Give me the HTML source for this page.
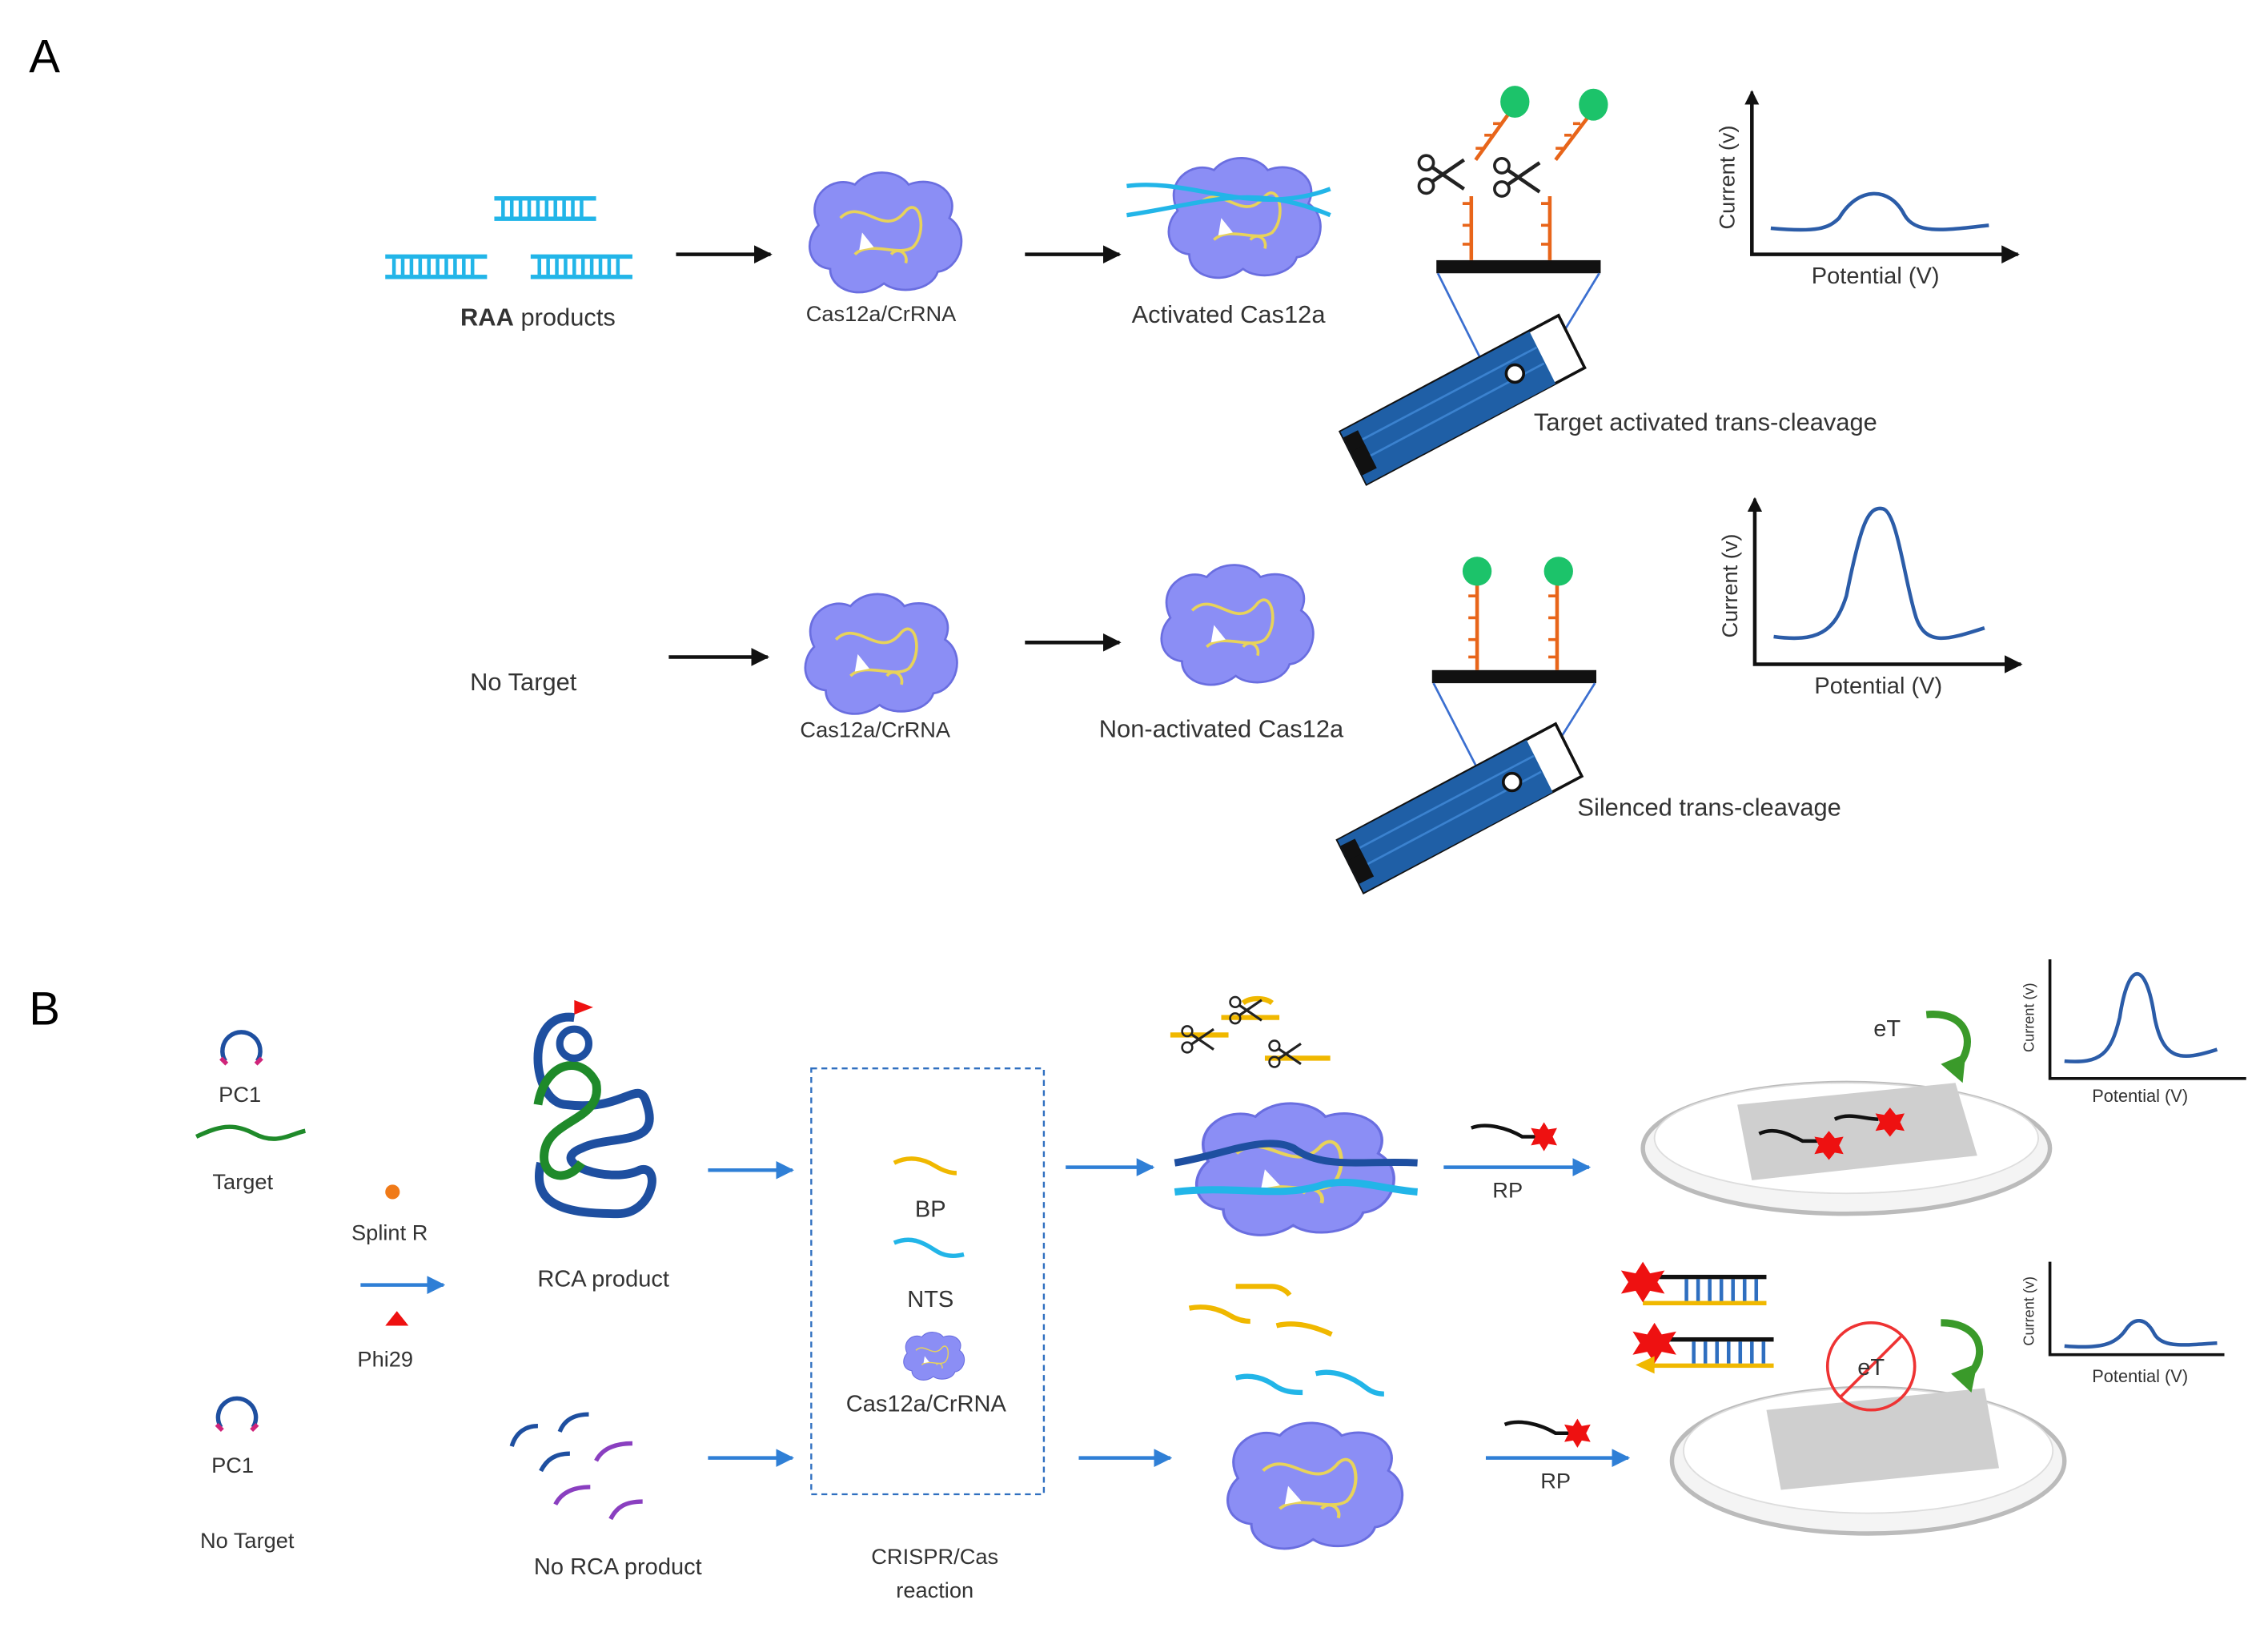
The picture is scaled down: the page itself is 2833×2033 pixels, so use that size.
<!DOCTYPE html>
<html><head><meta charset="utf-8"><style>
html,body{margin:0;padding:0;background:#fff}
svg{display:block}
text{font-family:"Liberation Sans",sans-serif;fill:#333}
</style></head><body>
<svg width="2833" height="2033" viewBox="0 0 1560 1120" preserveAspectRatio="none" xmlns="http://www.w3.org/2000/svg">
<defs>
<marker id="ak" markerWidth="5" markerHeight="5" refX="4.5" refY="2.5" orient="auto"><path d="M0,0 L5,2.5 L0,5 z" fill="#111"/></marker>
<marker id="ab" markerWidth="5" markerHeight="5" refX="4.5" refY="2.5" orient="auto"><path d="M0,0 L5,2.5 L0,5 z" fill="#2f7fd6"/></marker>
<g id="blob">
<path d="M10,40 C0,20 20,5 35,12 C45,0 65,2 72,12 C90,5 108,18 100,35 C115,45 108,70 92,72 C88,85 65,88 55,80 C40,92 18,85 18,70 C2,68 0,50 10,40 z" fill="#8b8ef5" stroke="#6a6ee0" stroke-width="1.5"/>
<path d="M25,35 C40,20 55,50 70,30 C80,20 85,45 75,55 C65,62 45,50 35,60" fill="none" stroke="#e8d35a" stroke-width="2"/>
<path d="M40,45 l8,10 l-10,2 z" fill="#fff"/>
<path d="M60,60 c5,-6 12,0 10,6" fill="none" stroke="#e8d35a" stroke-width="2"/>
</g>
<g id="dup">
<rect x="0" y="0" width="70" height="3" fill="#22b5e8"/><rect x="0" y="14" width="70" height="3" fill="#22b5e8"/>
<path d="M6,3v11M12,3v11M18,3v11M24,3v11M30,3v11M36,3v11M42,3v11M48,3v11M54,3v11M60,3v11" stroke="#22b5e8" stroke-width="2.5"/>
</g>
<g id="sc">
<circle cx="-12" cy="-8" r="5" fill="none" stroke="#222" stroke-width="2"/><circle cx="-12" cy="8" r="5" fill="none" stroke="#222" stroke-width="2"/>
<path d="M-8,-5 L14,10 M-8,5 L14,-10" stroke="#222" stroke-width="2.5"/>
</g>
<g id="strip">
<polygon points="0,0 150,-80 168,-44 18,36" fill="#fff" stroke="#111" stroke-width="2"/>
<polygon points="0,0 130,-69 148,-33 18,36" fill="#1f5fa6"/>
<path d="M10,8 L135,-58 M14,20 L140,-47" stroke="#3b82cf" stroke-width="1.5"/>
<polygon points="2,4 12,-1 20,15 10,20" fill="#111"/><polygon points="7,14 17,9 25,25 15,30" fill="#111"/>
<circle cx="120" cy="-40" r="6" fill="#fff" stroke="#111" stroke-width="2"/>
</g>
</defs>

<text x="20" y="50" font-size="32" style="fill:#000">A</text>
<text x="20" y="705" font-size="32" style="fill:#000">B</text>

<use href="#dup" x="265" y="175"/><use href="#dup" x="340" y="135"/><use href="#dup" x="365" y="175"/>
<text x="370" y="224" font-size="17" text-anchor="middle"><tspan font-weight="bold">RAA</tspan> products</text>
<line x1="465" y1="175" x2="530" y2="175" stroke="#111" stroke-width="2.5" marker-end="url(#ak)"/>
<use href="#blob" x="553" y="115"/>
<text x="606" y="221" font-size="15" text-anchor="middle">Cas12a/CrRNA</text>
<line x1="705" y1="175" x2="770" y2="175" stroke="#111" stroke-width="2.5" marker-end="url(#ak)"/>
<use href="#blob" x="800" y="105"/>
<path d="M775,128 C820,122 860,150 915,130 M775,148 C830,140 860,125 915,148" stroke="#22b5e8" stroke-width="3" fill="none"/>
<text x="845" y="222" font-size="17" text-anchor="middle">Activated Cas12a</text>
<rect x="988" y="179" width="113" height="9" fill="#111"/>
<path d="M1012,179V135 M1066,179V135" stroke="#e8651a" stroke-width="2.5"/>
<path d="M1012,140h-6M1012,155h-6M1012,168h-6M1066,140h-6M1066,155h-6M1066,168h-6" stroke="#e8651a" stroke-width="2"/>
<path d="M1015,110 L1040,75 M1070,110 L1095,77" stroke="#e8651a" stroke-width="2.5"/>
<path d="M1020,102h-5M1026,93h-5M1032,85h-5M1075,102h-5M1081,93h-5M1087,85h-5" stroke="#e8651a" stroke-width="2"/>
<ellipse cx="1042" cy="70" rx="10" ry="11" fill="#1cc36a"/><ellipse cx="1096" cy="72" rx="10" ry="11" fill="#1cc36a"/>
<use href="#sc" x="993" y="120"/><use href="#sc" x="1045" y="122"/>
<path d="M989,188 L1025,260 M1100,188 L1055,262" stroke="#3b6fd0" stroke-width="1.5"/>
<use href="#strip" x="922" y="297"/>
<path d="M1205,65 V175 H1388" stroke="#111" stroke-width="2.5" fill="none" marker-end="url(#ak)"/>
<path d="M1205,68 V63" stroke="#111" stroke-width="2" marker-end="url(#ak)"/>
<path d="M1218,157 C1250,160 1258,157 1265,150 C1278,128 1300,128 1310,148 C1318,162 1340,158 1368,155" stroke="#2b5ca8" stroke-width="2.5" fill="none"/>
<text transform="translate(1193,122) rotate(-90)" font-size="15" text-anchor="middle">Current (v)</text>
<text x="1290" y="195" font-size="16" text-anchor="middle">Potential (V)</text>
<text x="1055" y="296" font-size="17">Target activated trans-cleavage</text>

<text x="360" y="475" font-size="17" text-anchor="middle">No Target</text>
<line x1="460" y1="452" x2="528" y2="452" stroke="#111" stroke-width="2.5" marker-end="url(#ak)"/>
<use href="#blob" x="550" y="405"/>
<text x="602" y="507" font-size="15" text-anchor="middle">Cas12a/CrRNA</text>
<line x1="705" y1="442" x2="770" y2="442" stroke="#111" stroke-width="2.5" marker-end="url(#ak)"/>
<use href="#blob" x="795" y="385"/>
<text x="840" y="507" font-size="17" text-anchor="middle">Non-activated Cas12a</text>
<rect x="985" y="461" width="113" height="9" fill="#111"/>
<path d="M1016,461V400 M1071,461V400" stroke="#e8651a" stroke-width="2.5"/>
<path d="M1016,410h-6M1016,425h-6M1016,440h-6M1016,452h-6M1071,410h-6M1071,425h-6M1071,440h-6M1071,452h-6" stroke="#e8651a" stroke-width="2"/>
<ellipse cx="1016" cy="393" rx="10" ry="10" fill="#1cc36a"/><ellipse cx="1072" cy="393" rx="10" ry="10" fill="#1cc36a"/>
<path d="M986,470 L1022,540 M1097,470 L1052,542" stroke="#3b6fd0" stroke-width="1.5"/>
<use href="#strip" x="920" y="578"/>
<path d="M1207,345 V457 H1390" stroke="#111" stroke-width="2.5" fill="none" marker-end="url(#ak)"/>
<path d="M1207,348 V343" stroke="#111" stroke-width="2" marker-end="url(#ak)"/>
<path d="M1220,438 C1250,442 1262,435 1270,410 C1280,360 1285,348 1295,350 C1305,352 1310,400 1318,425 C1325,445 1340,440 1365,432" stroke="#2b5ca8" stroke-width="2.5" fill="none"/>
<text transform="translate(1195,403) rotate(-90)" font-size="15" text-anchor="middle">Current (v)</text>
<text x="1292" y="477" font-size="16" text-anchor="middle">Potential (V)</text>
<text x="1085" y="561" font-size="17">Silenced trans-cleavage</text>

<path d="M155,730 A13,13 0 1 1 177,730" fill="none" stroke="#1e4fa0" stroke-width="3"/>
<path d="M152,728 l4,4 M180,728 l-4,4" stroke="#d0247a" stroke-width="3"/>
<text x="165" y="758" font-size="15" text-anchor="middle">PC1</text>
<path d="M135,782 C150,775 160,772 175,780 C190,788 200,780 210,778" stroke="#1f8a2a" stroke-width="3" fill="none"/>
<text x="167" y="818" font-size="15" text-anchor="middle">Target</text>
<circle cx="270" cy="820" r="5" fill="#f07a18"/>
<text x="268" y="853" font-size="15" text-anchor="middle">Splint R</text>
<line x1="248" y1="884" x2="305" y2="884" stroke="#2f7fd6" stroke-width="2.5" marker-end="url(#ab)"/>
<polygon points="265,912 273,902 281,912" fill="#e11"/>
<text x="265" y="940" font-size="15" text-anchor="middle">Phi29</text>
<path d="M152,982 A13,13 0 1 1 174,982" fill="none" stroke="#1e4fa0" stroke-width="3"/>
<path d="M149,980 l4,4 M177,980 l-4,4" stroke="#d0247a" stroke-width="3"/>
<text x="160" y="1013" font-size="15" text-anchor="middle">PC1</text>
<text x="170" y="1065" font-size="15" text-anchor="middle">No Target</text>

<path d="M395,700 C360,695 365,760 390,760 C430,765 440,740 445,760 C455,790 420,780 400,790 C375,800 420,815 440,805 C455,800 450,835 425,835 C390,835 365,830 372,800" stroke="#1e4fa0" stroke-width="6" fill="none"/>
<path d="M370,760 C375,730 400,725 410,745 C415,770 380,770 375,790 C370,810 390,815 400,800" stroke="#1f8a2a" stroke-width="6" fill="none"/>
<circle cx="395" cy="718" r="10" fill="none" stroke="#1e4fa0" stroke-width="5"/>
<polygon points="395,688 408,693 395,698" fill="#e11"/>
<text x="415" y="885" font-size="16" text-anchor="middle">RCA product</text>
<line x1="487" y1="805" x2="545" y2="805" stroke="#2f7fd6" stroke-width="2.5" marker-end="url(#ab)"/>
<path d="M352,995 c3,-10 10,-14 18,-14 M385,985 c3,-8 10,-12 20,-12 M372,1012 c4,-8 10,-12 20,-12" stroke="#1e4fa0" stroke-width="3" fill="none"/>
<path d="M410,1005 c4,-8 12,-12 25,-12 M382,1035 c4,-8 12,-12 24,-12 M420,1045 c4,-8 10,-12 22,-12" stroke="#8a3fc0" stroke-width="3" fill="none"/>
<text x="425" y="1083" font-size="16" text-anchor="middle">No RCA product</text>
<line x1="487" y1="1003" x2="545" y2="1003" stroke="#2f7fd6" stroke-width="2.5" marker-end="url(#ab)"/>

<rect x="558" y="735" width="160" height="293" fill="none" stroke="#2f6fc0" stroke-width="1.3" stroke-dasharray="4,3"/>
<path d="M615,800 c10,-5 20,-3 28,2 c5,3 10,5 15,5" stroke="#f0b800" stroke-width="3" fill="none"/>
<text x="640" y="837" font-size="16" text-anchor="middle">BP</text>
<path d="M615,855 c12,-5 20,0 28,5 c6,4 12,5 20,3" stroke="#22b5e8" stroke-width="3" fill="none"/>
<text x="640" y="899" font-size="16" text-anchor="middle">NTS</text>
<use href="#blob" transform="translate(620,915) scale(0.4)"/>
<text x="637" y="971" font-size="16" text-anchor="middle">Cas12a/CrRNA</text>
<text x="643" y="1076" font-size="15" text-anchor="middle">CRISPR/Cas</text>
<text x="643" y="1099" font-size="15" text-anchor="middle">reaction</text>

<line x1="733" y1="803" x2="793" y2="803" stroke="#2f7fd6" stroke-width="2.5" marker-end="url(#ab)"/>
<line x1="742" y1="1003" x2="805" y2="1003" stroke="#2f7fd6" stroke-width="2.5" marker-end="url(#ab)"/>

<path d="M805,712 h40 M840,700 h40 M870,728 h45 M855,690 c5,-4 15,-4 20,0" stroke="#f0b800" stroke-width="3.5" fill="none"/>
<use href="#sc" transform="translate(825,715) scale(0.7)"/><use href="#sc" transform="translate(858,695) scale(0.7)"/><use href="#sc" transform="translate(885,725) scale(0.7)"/>
<use href="#blob" transform="translate(818,755) scale(1.3,1.1)"/>
<path d="M808,800 C840,795 870,780 890,790 C910,805 940,798 975,800" stroke="#1e4fa0" stroke-width="5" fill="none"/>
<path d="M808,820 C850,815 880,825 910,815 C930,810 950,818 975,820" stroke="#22b5e8" stroke-width="5" fill="none"/>
<path d="M850,885 h25 c5,0 10,3 12,6 M818,900 c10,-2 20,0 28,5 c5,3 10,4 14,4 M878,912 c12,-3 25,0 38,6" stroke="#f0b800" stroke-width="3.5" fill="none"/>
<path d="M850,948 c10,-3 20,0 28,6 c5,3 10,4 18,4 M905,945 c12,-3 25,2 35,10 c4,3 8,4 12,4" stroke="#22b5e8" stroke-width="3.5" fill="none"/>
<use href="#blob" transform="translate(840,975) scale(1.15,1.05)"/>

<line x1="993" y1="803" x2="1093" y2="803" stroke="#2f7fd6" stroke-width="2.5" marker-end="url(#ab)"/>
<path d="M1012,776 c10,-4 25,0 35,6 h12" stroke="#111" stroke-width="2.5" fill="none"/>
<polygon points="1062,772 1065,777 1071,776 1068,782 1071,788 1065,787 1062,792 1059,787 1053,788 1056,782 1053,776 1059,777" fill="#e11"/>
<text x="1037" y="824" font-size="15" text-anchor="middle">RP</text>
<line x1="1022" y1="1003" x2="1120" y2="1003" stroke="#2f7fd6" stroke-width="2.5" marker-end="url(#ab)"/>
<path d="M1035,980 c10,-4 25,0 35,6 h12" stroke="#111" stroke-width="2.5" fill="none"/>
<polygon points="1085,976 1088,981 1094,980 1091,986 1094,992 1088,991 1085,996 1082,991 1076,992 1079,986 1076,980 1082,981" fill="#e11"/>
<text x="1070" y="1024" font-size="15" text-anchor="middle">RP</text>

<ellipse cx="1270" cy="790" rx="140" ry="45" fill="#f4f4f4" stroke="#bbb" stroke-width="3"/>
<ellipse cx="1270" cy="783" rx="132" ry="38" fill="#fff" stroke="#ddd" stroke-width="1"/>
<polygon points="1195,760 1345,745 1360,795 1205,812" fill="#cfcfcf"/>
<path d="M1210,780 c10,-5 20,0 30,5 h10 M1262,770 c10,-5 20,0 30,0" stroke="#111" stroke-width="2.5" fill="none"/>
<polygon points="1258,778 1262,783 1268,782 1265,788 1268,794 1262,793 1258,798 1254,793 1248,794 1251,788 1248,782 1254,783" fill="#e11"/>
<polygon points="1300,762 1304,767 1310,766 1307,772 1310,778 1304,777 1300,782 1296,777 1290,778 1293,772 1290,766 1296,767" fill="#e11"/>
<text x="1298" y="713" font-size="16" text-anchor="middle">eT</text>
<path d="M1325,698 C1355,695 1360,720 1345,735" stroke="#3a9a2a" stroke-width="5" fill="none"/>
<polygon points="1335,732 1352,725 1350,745" fill="#3a9a2a"/>

<ellipse cx="1285" cy="1005" rx="135" ry="50" fill="#f4f4f4" stroke="#bbb" stroke-width="3"/>
<ellipse cx="1285" cy="998" rx="127" ry="43" fill="#fff" stroke="#ddd"/>
<polygon points="1215,970 1365,955 1375,1010 1225,1025" fill="#cfcfcf"/>
<circle cx="1287" cy="940" r="30" fill="none" stroke="#e33" stroke-width="2"/>
<line x1="1266" y1="961" x2="1308" y2="919" stroke="#e33" stroke-width="2"/>
<text x="1287" y="946" font-size="16" text-anchor="middle">eT</text>
<path d="M1335,910 C1365,910 1368,935 1352,948" stroke="#3a9a2a" stroke-width="5" fill="none"/>
<polygon points="1342,945 1360,938 1356,958" fill="#3a9a2a"/>
<g>
<rect x="1140" y="877" width="75" height="3" fill="#111"/><rect x="1130" y="895" width="85" height="3" fill="#f0b800"/>
<path d="M1160,880v15M1168,880v15M1176,880v15M1184,880v15M1192,880v15M1200,880v15M1208,880v15" stroke="#2f6fc0" stroke-width="2.5"/>
<polygon points="1130,868 1135,876 1145,874 1140,882 1145,890 1135,888 1130,896 1125,888 1115,890 1120,882 1115,874 1125,876" fill="#e11"/>
<rect x="1140" y="920" width="80" height="3" fill="#111"/><rect x="1130" y="938" width="90" height="3" fill="#f0b800"/>
<path d="M1165,923v15M1173,923v15M1181,923v15M1189,923v15M1197,923v15M1205,923v15M1213,923v15" stroke="#2f6fc0" stroke-width="2.5"/>
<polygon points="1138,910 1143,918 1153,916 1148,924 1153,932 1143,930 1138,938 1133,930 1123,932 1128,924 1123,916 1133,918" fill="#e11"/>
<polygon points="1125,939 1138,933 1138,945" fill="#f0b800"/>
</g>

<path d="M1410,660 V742 H1545" stroke="#111" stroke-width="2" fill="none"/>
<path d="M1420,730 C1445,732 1452,725 1458,700 C1464,660 1476,660 1482,700 C1488,730 1500,730 1525,722" stroke="#2b5ca8" stroke-width="2.5" fill="none"/>
<text transform="translate(1399,700) rotate(-90)" font-size="10" text-anchor="middle">Current (v)</text>
<text x="1472" y="758" font-size="12" text-anchor="middle">Potential (V)</text>
<path d="M1410,868 V932 H1530" stroke="#111" stroke-width="2" fill="none"/>
<path d="M1420,926 C1445,928 1455,925 1462,915 C1468,906 1476,906 1482,918 C1488,928 1505,925 1525,924" stroke="#2b5ca8" stroke-width="2.5" fill="none"/>
<text transform="translate(1399,902) rotate(-90)" font-size="10" text-anchor="middle">Current (v)</text>
<text x="1472" y="951" font-size="12" text-anchor="middle">Potential (V)</text>
</svg>
</body></html>
